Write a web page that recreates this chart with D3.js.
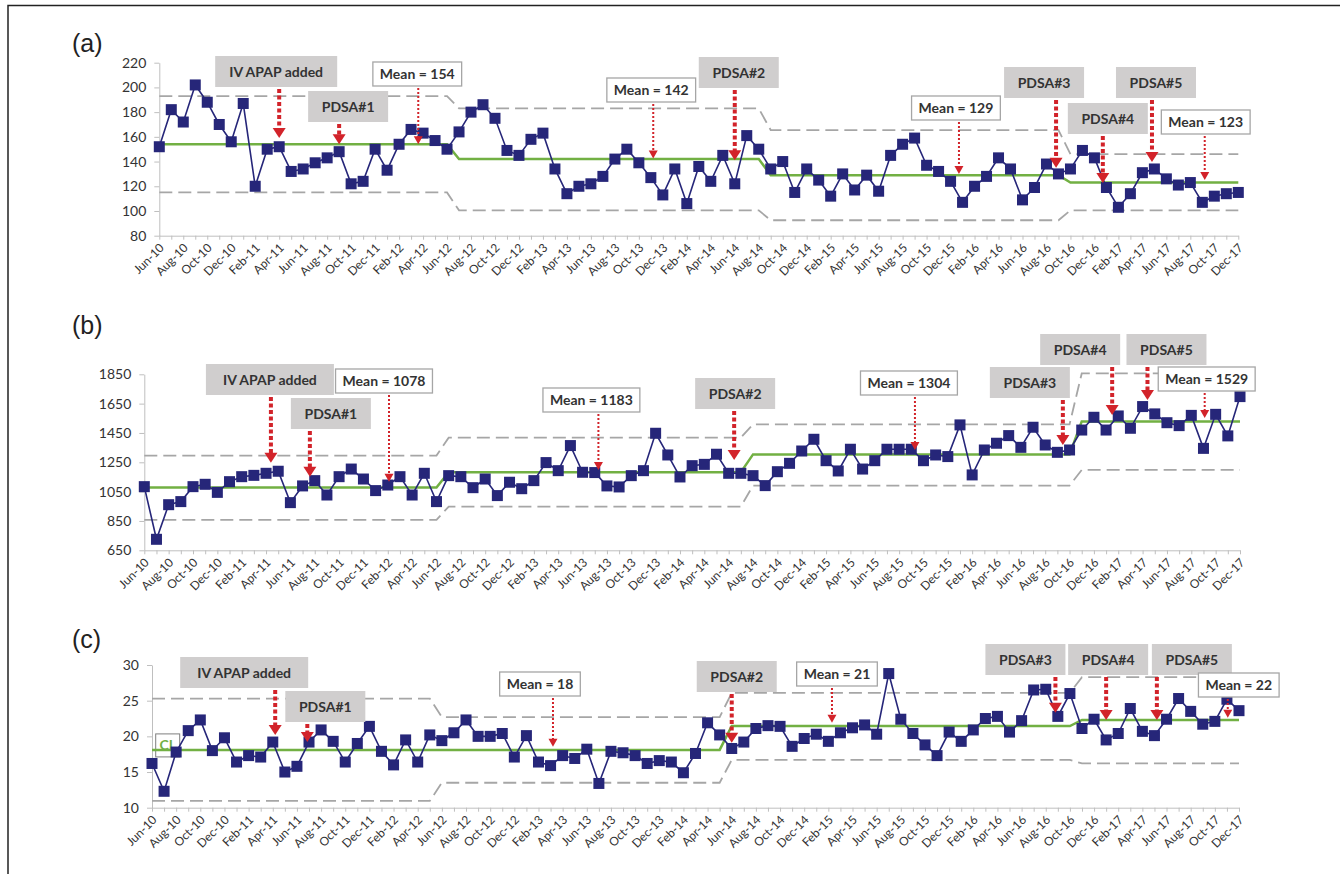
<!DOCTYPE html>
<html>
<head>
<meta charset="utf-8">
<script src="https://cdn.jsdelivr.net/npm/d3@7"></script>
<style>
  body { margin: 0; background: #fff; }
  svg { display: block; font-family: Lato, "Open Sans", sans-serif; }
</style>
</head>
<body>
<svg id="chart" width="1340" height="874"></svg>
<script>
// control charts (a) (b) (c), monthly Jun-10 .. Dec-17

//--------------------------------------------------
// Data
//--------------------------------------------------
const months = [
    "Jun-10", "Jul-10", "Aug-10", "Sep-10", "Oct-10", "Nov-10", "Dec-10",
    "Jan-11", "Feb-11", "Mar-11", "Apr-11", "May-11", "Jun-11", "Jul-11", "Aug-11", "Sep-11", "Oct-11", "Nov-11", "Dec-11",
    "Jan-12", "Feb-12", "Mar-12", "Apr-12", "May-12", "Jun-12", "Jul-12", "Aug-12", "Sep-12", "Oct-12", "Nov-12", "Dec-12",
    "Jan-13", "Feb-13", "Mar-13", "Apr-13", "May-13", "Jun-13", "Jul-13", "Aug-13", "Sep-13", "Oct-13", "Nov-13", "Dec-13",
    "Jan-14", "Feb-14", "Mar-14", "Apr-14", "May-14", "Jun-14", "Jul-14", "Aug-14", "Sep-14", "Oct-14", "Nov-14", "Dec-14",
    "Jan-15", "Feb-15", "Mar-15", "Apr-15", "May-15", "Jun-15", "Jul-15", "Aug-15", "Sep-15", "Oct-15", "Nov-15", "Dec-15",
    "Jan-16", "Feb-16", "Mar-16", "Apr-16", "May-16", "Jun-16", "Jul-16", "Aug-16", "Sep-16", "Oct-16", "Nov-16", "Dec-16",
    "Jan-17", "Feb-17", "Mar-17", "Apr-17", "May-17", "Jun-17", "Jul-17", "Aug-17", "Sep-17", "Oct-17", "Nov-17", "Dec-17"
];

const aValues = [
    152, 182, 172, 202, 188, 170, 156,
    187, 120, 150, 152, 132, 134, 139, 143, 148, 122, 124, 150,
    133, 154, 166, 163, 157, 150, 164, 180, 186, 175, 149, 145,
    158, 163, 134, 114, 120, 122, 128, 142, 150, 139, 127, 113,
    134, 106, 136, 124, 145, 122, 161, 150, 134, 140, 115, 134,
    125, 112, 130, 117, 129, 116, 145, 154, 159, 137, 132, 124,
    107, 120, 128, 143, 134, 109, 119, 138, 130, 134, 149, 143,
    119, 103, 114, 131, 134, 126, 121, 123, 107, 112, 114, 115
];
const bValues = [
    1084, 725, 961, 982, 1084, 1100, 1045,
    1118, 1152, 1161, 1175, 1189, 975, 1089, 1125, 1027, 1152, 1204, 1136,
    1057, 1095, 1152, 1027, 1175, 982, 1159, 1152, 1077, 1136, 1023, 1114,
    1070, 1125, 1248, 1193, 1364, 1182, 1180, 1089, 1082, 1159, 1193, 1448,
    1300, 1150, 1227, 1236, 1305, 1175, 1175, 1159, 1091, 1186, 1243, 1327,
    1407, 1261, 1191, 1339, 1204, 1261, 1339, 1339, 1339, 1261, 1300, 1289,
    1505, 1164, 1334, 1380, 1432, 1352, 1489, 1368, 1318, 1334, 1470, 1557,
    1470, 1566, 1482, 1630, 1580, 1520, 1500, 1570, 1345, 1577, 1430, 1698
];
const cValues = [
    16.2, 12.3, 17.8, 20.8, 22.3, 18.0, 19.8,
    16.4, 17.3, 17.1, 19.2, 15.0, 15.8, 19.2, 20.9, 19.3, 16.4, 19.0, 21.4,
    17.9, 16.0, 19.5, 16.4, 20.2, 19.4, 20.5, 22.3, 20.0, 20.0, 20.4, 17.1,
    20.1, 16.4, 15.9, 17.3, 16.9, 18.2, 13.4, 17.9, 17.7, 17.3, 16.2, 16.6,
    16.4, 14.9, 17.6, 21.9, 20.2, 18.3, 19.2, 21.1, 21.5, 21.4, 18.6, 19.7,
    20.3, 19.3, 20.5, 21.2, 21.6, 20.3, 28.8, 22.4, 20.4, 18.8, 17.3, 20.6,
    19.3, 20.9, 22.5, 22.8, 20.6, 22.2, 26.5, 26.6, 22.8, 26.0, 21.1, 22.4,
    19.5, 20.4, 23.9, 20.7, 20.1, 22.4, 25.3, 23.5, 21.7, 22.1, 25.2, 23.6
];

// control lines: [value, last month of the segment]
const aMean = [[154, "Jun-12"], [142, "Aug-14"], [129, "Sep-16"], [123, "Dec-17"]];
const aUcl = [[193, "Jun-12"], [183, "Aug-14"], [165.5, "Sep-16"], [146, "Dec-17"]];
const aLcl = [[115, "Jun-12"], [100.5, "Aug-14"], [92.5, "Sep-16"], [100.5, "Dec-17"]];

const bMean = [[1078, "Jun-12"], [1183, "Jul-14"], [1304, "Oct-16"], [1529, "Dec-17"]];
const bUcl = [[1296, "Jun-12"], [1418, "Jul-14"], [1509, "Oct-16"], [1856, "Dec-17"]];
const bLcl = [[857, "Jun-12"], [948, "Jul-14"], [1091, "Oct-16"], [1198, "Dec-17"]];

const cMean = [[18.1, "May-14"], [21.45, "Oct-16"], [22.3, "Dec-17"]];
const cUcl = [[25.3, "May-12"], [22.7, "May-14"], [26.1, "Oct-16"], [28.3, "Dec-17"]];
const cLcl = [[10.95, "May-12"], [13.5, "May-14"], [16.7, "Oct-16"], [16.2, "Dec-17"]];

// annotations: text, month position (index), arrow tip value
const aNotes = [
    { text: "IV APAP added", at: 10, tip: 159, event: true, top: 56, dx: -3, w: 122 },
    { text: "PDSA#1", at: 15, tip: 154, event: true, top: 91, dx: 9 },
    { text: "Mean = 154", at: 21.6, tip: 154, top: 62, dx: -1 },
    { text: "Mean = 142", at: 41.2, tip: 142.5, top: 78, dx: -2 },
    { text: "PDSA#2", at: 48, tip: 141, event: true, top: 57, dx: 4 },
    { text: "Mean = 129", at: 66.7, tip: 130, top: 96, dx: -3 },
    { text: "PDSA#3", at: 74.8, tip: 135, event: true, top: 67, dx: -12 },
    { text: "PDSA#4", at: 78.7, tip: 122.6, event: true, top: 103, dx: 5 },
    { text: "PDSA#5", at: 82.8, tip: 139.6, event: true, top: 67, dx: 4 },
    { text: "Mean = 123", at: 87.2, tip: 125, top: 110, dx: 1 }
];
const bNotes = [
    { text: "IV APAP added", at: 10.4, tip: 1247, event: true, top: 364, dx: -1, w: 128 },
    { text: "PDSA#1", at: 13.6, tip: 1152, event: true, top: 398, dx: 21 },
    { text: "Mean = 1078", at: 20.1, tip: 1118, top: 369, dx: -5 },
    { text: "Mean = 1183", at: 37.3, tip: 1197, top: 388, dx: -7 },
    { text: "PDSA#2", at: 48.45, tip: 1266, event: true, top: 378, dx: 1 },
    { text: "Mean = 1304", at: 63.3, tip: 1334, top: 371, dx: -6 },
    { text: "PDSA#3", at: 75.45, tip: 1368, event: true, top: 367, dx: -33 },
    { text: "PDSA#4", at: 79.5, tip: 1573, event: true, top: 334, dx: -32 },
    { text: "PDSA#5", at: 82.4, tip: 1675, event: true, top: 334, dx: 19 },
    { text: "Mean = 1529", at: 87.1, tip: 1552, top: 367, dx: 2 }
];
const cNotes = [
    { text: "IV APAP added", at: 10.2, tip: 20.2, event: true, top: 657, dx: -31, w: 128 },
    { text: "PDSA#1", at: 12.86, tip: 19.2, event: true, top: 691, dx: 18 },
    { text: "Mean = 18", at: 33.2, tip: 18.55, top: 672, dx: -13 },
    { text: "PDSA#2", at: 48, tip: 19.1, event: true, top: 661, dx: 5 },
    { text: "Mean = 21", at: 56.3, tip: 21.9, top: 662, dx: 5 },
    { text: "PDSA#3", at: 74.8, tip: 23.3, event: true, top: 644, dx: -30 },
    { text: "PDSA#4", at: 79, tip: 22.3, event: true, top: 644, dx: 2 },
    { text: "PDSA#5", at: 83.2, tip: 22.3, event: true, top: 644, dx: 35 },
    { text: "Mean = 22", at: 89.07, tip: 22.6, top: 673, dx: 11 }
];

//--------------------------------------------------
// Layout
//--------------------------------------------------
const panels = [
    { label: "(a)", labelY: 52, values: aValues, yDomain: [80, 220], yTicks: d3.range(80, 221, 20),
      xRange: [159.3, 1238.3], yRange: [235.7, 62.7], mean: aMean, ucl: aUcl, lcl: aLcl, notes: aNotes },
    { label: "(b)", labelY: 334, values: bValues, yDomain: [650, 1850], yTicks: d3.range(650, 1851, 200),
      xRange: [144.3, 1240], yRange: [550.3, 374.3], mean: bMean, ucl: bUcl, lcl: bLcl, notes: bNotes },
    { label: "(c)", labelY: 648, values: cValues, yDomain: [10, 30], yTicks: d3.range(10, 31, 5),
      xRange: [152, 1239], yRange: [807.7, 665], mean: cMean, ucl: cUcl, lcl: cLcl, notes: cNotes, cl: true }
];

const navy = "#262679",
    green = "#72b043",
    red = "#d2232a",
    grey = "#a6a6a6";

const svg = d3.select("#chart");

// frame (top + left only)
svg.append("path")
    .attr("d", "M8,874V5.5H1340")
    .attr("fill", "none")
    .attr("stroke", "#222")
    .attr("stroke-width", 1.5);

panels.forEach(drawPanel);

function stepValues(segs) {
    return months.map((m, i) => segs.find(s => i <= months.indexOf(s[1]))[0]);
}

function drawPanel(p) {
    const g = svg.append("g");

    const x = d3.scalePoint().domain(months).range(p.xRange);
    const xi = i => p.xRange[0] + i * x.step();
    const y = d3.scaleLinear().domain(p.yDomain).range(p.yRange);

    g.append("text")
        .attr("x", 72)
        .attr("y", p.labelY)
        .attr("font-family", "'Liberation Sans', Arial, sans-serif")
        .attr("font-size", 25)
        .attr("fill", "#222")
        .text(p.label);

    // y axis
    const yAxis = g.append("g")
        .attr("transform", `translate(${p.xRange[0]},0)`)
        .call(d3.axisLeft(y).tickValues(p.yTicks).tickFormat(d3.format("d"))
            .tickSize(5).tickSizeOuter(0).tickPadding(8));
    yAxis.attr("font-family", "Lato, sans-serif");
    yAxis.select(".domain").attr("stroke", "#bfbfbf");
    yAxis.selectAll(".tick line").attr("stroke", "#bfbfbf");
    yAxis.selectAll(".tick text").attr("font-size", 14).attr("fill", "#333");

    // x axis
    const xAxis = g.append("g")
        .attr("transform", `translate(0,${p.yRange[0]})`)
        .call(d3.axisBottom(x).tickSize(4).tickSizeOuter(0)
            .tickFormat((d, i) => i % 2 ? "" : d));
    xAxis.attr("font-family", "Lato, sans-serif");
    xAxis.select(".domain").attr("stroke", "#bfbfbf");
    xAxis.selectAll(".tick line").attr("stroke", "#bfbfbf");
    xAxis.selectAll(".tick text")
        .attr("font-size", 12)
        .attr("fill", "#333")
        .attr("y", 0)
        .attr("dy", "0.35em")
        .attr("text-anchor", "end")
        .attr("transform", "translate(2,10) rotate(-45)");

    // CL label box (panel c)
    if (p.cl) {
        const cy = y(p.mean[0][0]);
        g.append("rect")
            .attr("x", p.xRange[0] + 3.7)
            .attr("y", cy - 16)
            .attr("width", 24)
            .attr("height", 23)
            .attr("fill", "#fff")
            .attr("stroke", "#7f7f7f");
        g.append("text")
            .attr("x", p.xRange[0] + 15.7)
            .attr("y", cy)
            .attr("text-anchor", "middle")
            .attr("font-size", 14)
            .attr("font-weight", "bold")
            .attr("fill", green)
            .text("CL");
    }

    const line = d3.line().x((d, i) => x(months[i])).y(d => y(d));

    [p.ucl, p.lcl].forEach(s => {
        g.append("path")
            .datum(stepValues(s))
            .attr("fill", "none")
            .attr("stroke", grey)
            .attr("stroke-width", 1.8)
            .attr("stroke-dasharray", "13,6")
            .attr("d", line);
    });

    g.append("path")
        .datum(stepValues(p.mean))
        .attr("fill", "none")
        .attr("stroke", green)
        .attr("stroke-width", 2.5)
        .attr("d", line);

    g.append("path")
        .datum(p.values)
        .attr("fill", "none")
        .attr("stroke", navy)
        .attr("stroke-width", 1.6)
        .attr("d", line);

    g.selectAll(".pt")
        .data(p.values)
        .join("rect")
        .attr("class", "pt")
        .attr("x", (d, i) => x(months[i]) - 5.5)
        .attr("y", d => y(d) - 5.5)
        .attr("width", 11)
        .attr("height", 11)
        .attr("fill", navy);

    // annotations
    p.notes.forEach(n => {
        const ax = xi(n.at);
        const cx = ax + n.dx;
        const h = n.event ? 31 : 24;
        const box = g.append("rect")
            .attr("y", n.top)
            .attr("height", h)
            .attr("fill", n.event ? "#d0cece" : "#fff")
            .attr("stroke", n.event ? "none" : "#a6a6a6")
            .attr("stroke-width", 1.3);
        const t = g.append("text")
            .attr("x", cx)
            .attr("y", n.top + h / 2)
            .attr("dy", "0.36em")
            .attr("text-anchor", "middle")
            .attr("font-size", 14)
            .attr("font-weight", "bold")
            .attr("fill", "#333")
            .text(n.text);
        const w = n.w || (n.event ? 80 : t.node().getComputedTextLength() + 14);
        box.attr("x", cx - w / 2).attr("width", w);

        const tipY = y(n.tip);
        const hw = n.event ? 6.5 : 4.5,
            hh = n.event ? 10 : 8;
        g.append("line")
            .attr("x1", ax)
            .attr("x2", ax)
            .attr("y1", n.top + h + 2)
            .attr("y2", tipY - hh + 1)
            .attr("stroke", red)
            .attr("stroke-width", n.event ? 4 : 2)
            .attr("stroke-dasharray", n.event ? "4,2.5" : "2,2");
        g.append("path")
            .attr("d", `M${ax - hw},${tipY - hh}L${ax + hw},${tipY - hh}L${ax},${tipY}Z`)
            .attr("fill", red);
    });
}
</script>
</body>
</html>
